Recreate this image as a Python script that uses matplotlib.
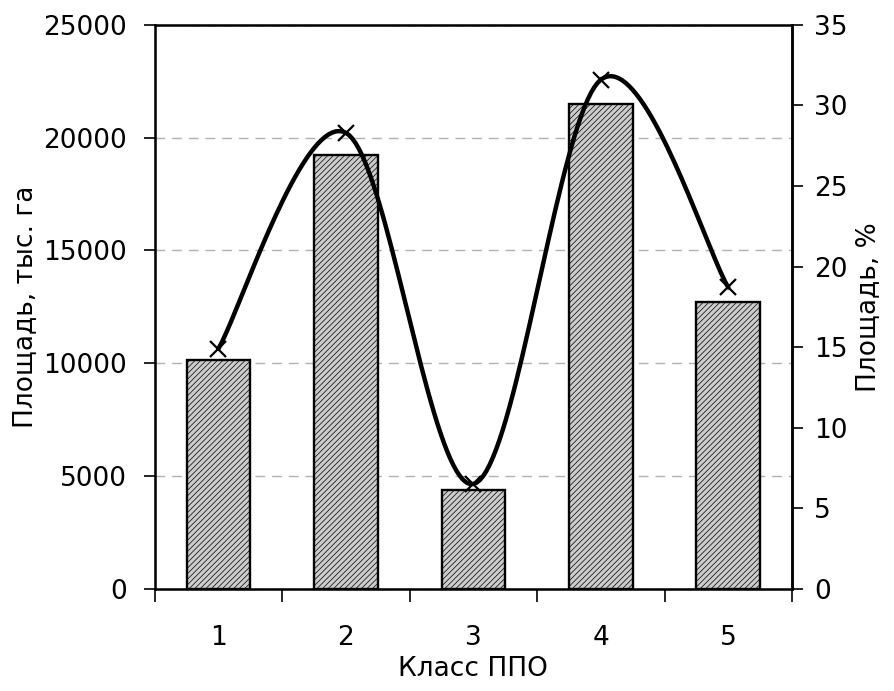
import matplotlib.pyplot as plt
import numpy as np

classes = [1, 2, 3, 4, 5]
area_kha = [10150, 19240, 4390, 21500, 12720]   # площадь, тыс. га
area_pct = [14.9, 28.3, 6.5, 31.6, 18.7]         # площадь, %

plt.rcParams['font.family'] = 'DejaVu Sans'
plt.rcParams['hatch.color'] = '#b8b8b8'
plt.rcParams['hatch.linewidth'] = 0.5
fs = 19
tfs = 19


def smooth(xs, ys, n=40):
    # Catmull-Rom spline through the points (smoothed line)
    p = np.column_stack([xs, ys]).astype(float)
    p = np.vstack([p[0], p, p[-1]])
    out = []
    t = np.linspace(0, 1, n)[:, None]
    for i in range(1, len(p) - 2):
        p0, p1, p2, p3 = p[i - 1], p[i], p[i + 1], p[i + 2]
        c = 0.5 * ((2 * p1) + (-p0 + p2) * t + (2 * p0 - 5 * p1 + 4 * p2 - p3) * t ** 2
                   + (-p0 + 3 * p1 - 3 * p2 + p3) * t ** 3)
        out.append(c)
    c = np.vstack(out)
    return c[:, 0], c[:, 1]


fig = plt.figure(figsize=(8.94, 6.91), dpi=100)
ax = fig.add_axes([0.173, 0.148, 0.713, 0.816])

ax.bar(classes, area_kha, width=0.5, facecolor='#cccccc', edgecolor='black',
       linewidth=1.7, hatch='//////', zorder=2)
ax.set_xlim(0.5, 5.5)
ax.set_ylim(0, 25000)
ax.set_yticks(range(0, 25001, 5000))
ax.yaxis.grid(True, linestyle=(0, (7, 5)), color='#b0b0b0', linewidth=1)
ax.set_axisbelow(True)

ax.set_xticks(classes)
ax.set_xticks(np.arange(0.5, 5.6, 1), minor=True)
ax.tick_params(axis='x', which='major', length=0, pad=26, labelsize=tfs)
ax.tick_params(axis='x', which='minor', length=9, width=1.2, direction='out')
ax.tick_params(axis='y', length=8, width=1.2, labelsize=tfs, pad=12)
for s in ax.spines.values():
    s.set_linewidth(1.8)

ax.set_xlabel('Класс ППО', fontsize=fs, labelpad=4)
ax.set_ylabel('Площадь, тыс. га', fontsize=fs, labelpad=3)

ax2 = ax.twinx()
ax2.set_ylim(0, 35)
ax2.set_yticks(range(0, 36, 5))
ax2.tick_params(axis='y', length=8, width=1.2, labelsize=tfs, pad=8)
ax2.spines['right'].set_linewidth(1.8)
sx, sy = smooth(classes, area_pct)
ax2.plot(sx, sy, color='black', linewidth=3.2, solid_capstyle='round', zorder=3)
ax2.plot(classes, area_pct, linestyle='none', marker='x', markersize=12,
         markeredgewidth=1.6, color='black', zorder=4)
ax2.set_ylabel('Площадь, %', fontsize=fs, labelpad=6)

fig.savefig('out.png', dpi=100)
